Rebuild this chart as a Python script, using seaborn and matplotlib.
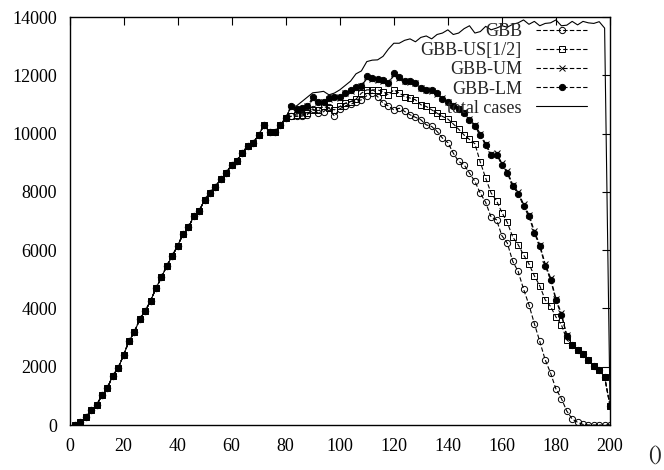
import matplotlib
matplotlib.use("Agg")
import matplotlib.pyplot as plt
import seaborn as sns
import pandas as pd

# ---------------- data ----------------
days = list(range(2, 201, 2))

# values shared by all series (x = 2 .. 80)
common = [10, 89, 261, 501, 686, 1015, 1269, 1691, 1955, 2401,
          2881, 3190, 3636, 3910, 4260, 4699, 5063, 5464, 5797, 6150,
          6551, 6778, 7169, 7350, 7728, 7978, 8184, 8448, 8644, 8939,
          9076, 9350, 9580, 9693, 9950, 10300, 10050, 10050, 10300, 10530]

# x = 82 .. 200
gbb_tail = [10590, 10590, 10600, 10650, 10850, 10700, 10750, 10900, 10600, 10850,
            10950, 11000, 11100, 11160, 11300, 11390, 11270, 11045, 10950, 10815,
            10870, 10760, 10644, 10560, 10473, 10300, 10244, 10073, 9845, 9690,
            9330, 9043, 8929, 8643, 8357, 7957, 7637, 7134, 7043, 6494,
            6243, 5614, 5271, 4664, 4127, 3480, 2869, 2241, 1784, 1235,
            910, 480, 206, 92, 20, 0, 0, 0, 0, 0]

us_tail = [10600, 10640, 10640, 10700, 10800, 10815, 10930, 10870, 10815, 10930,
           11040, 11100, 11180, 11387, 11500, 11500, 11500, 11440, 11330, 11500,
           11390, 11270, 11220, 11160, 10990, 10930, 10815, 10700, 10590, 10500,
           10330, 10150, 9950, 9800, 9650, 9020, 8470, 7960, 7700, 7290,
           6950, 6450, 6190, 5840, 5530, 5120, 4778, 4298, 4070, 3704,
           3441, 2927, 2755, 2561, 2447, 2241, 2035, 1898, 1647, 664]

um_tail = [10900, 10850, 10850, 10950, 11200, 11100, 11080, 11200, 11250, 11230,
           11380, 11450, 11560, 11620, 11900, 11880, 11850, 11820, 11740, 12000,
           11920, 11800, 11780, 11720, 11560, 11500, 11460, 11370, 11220, 11100,
           10980, 10880, 10750, 10500, 10300, 10000, 9650, 9300, 9330, 8980,
           8700, 8250, 7990, 7580, 7220, 6650, 6190, 5530, 5050, 4330,
           3830, 3080, 2755, 2561, 2447, 2241, 2035, 1898, 1647, 664]

lm_tail = [10930, 10850, 10870, 10930, 11250, 11100, 11100, 11216, 11270, 11250,
           11390, 11480, 11590, 11640, 11960, 11900, 11870, 11850, 11750, 12070,
           11940, 11820, 11790, 11750, 11560, 11500, 11480, 11390, 11200, 11080,
           10950, 10850, 10700, 10450, 10250, 9950, 9600, 9250, 9280, 8930,
           8640, 8190, 7935, 7520, 7160, 6590, 6130, 5470, 4990, 4275,
           3784, 3050, 2755, 2561, 2447, 2241, 2035, 1898, 1647, 664]

total_tail = [10930, 10950, 11100, 11250, 11400, 11420, 11450, 11330, 11390, 11500,
              11650, 11800, 12050, 12150, 12470, 12520, 12530, 12650, 12900, 13100,
              13100, 13200, 13250, 13150, 13300, 13350, 13250, 13400, 13450, 13560,
              13400, 13450, 13600, 13700, 13450, 13500, 13680, 13560, 13620, 13700,
              13650, 13750, 13800, 13900, 13750, 13850, 13700, 13780, 13800, 13900,
              13700, 13720, 13850, 13730, 13850, 13800, 13780, 13840, 13620, 664]

labels = ["GBB", "GBB-US[1/2]", "GBB-UM", "GBB-LM", "total cases"]
series = {
    "GBB": common + gbb_tail,
    "GBB-US[1/2]": common + us_tail,
    "GBB-UM": common + um_tail,
    "GBB-LM": common + lm_tail,
    "total cases": common + total_tail,
}

x_ticks = list(range(0, 201, 20))
y_ticks = list(range(0, 14001, 2000))

# ---------------- style ----------------
sns.set_style("white")
plt.rcParams["font.family"] = ["Liberation Serif", "DejaVu Serif"]
plt.rcParams["font.size"] = 13

fig = plt.figure(figsize=(6.64, 4.70), dpi=100)
ax = fig.add_axes([0.1047, 0.0957, 0.8140, 0.8681])

ms = 4.5
styles = {
    "GBB": dict(marker="o", markersize=ms, markerfacecolor="none",
                markeredgecolor="black", markeredgewidth=0.7, dashes=(4, 2)),
    "GBB-US[1/2]": dict(marker="s", markersize=ms, markerfacecolor="none",
                        markeredgecolor="black", markeredgewidth=0.7, dashes=(4, 2)),
    "GBB-UM": dict(marker="x", markersize=ms, markeredgecolor="black",
                   markeredgewidth=0.7, dashes=(4, 2)),
    "GBB-LM": dict(marker="o", markersize=ms, markerfacecolor="black",
                   markeredgecolor="black", markeredgewidth=0.7, dashes=(4, 2)),
    "total cases": dict(marker=None),
}

for name in labels:
    df = pd.DataFrame({"day": days, "cases": series[name]})
    sns.lineplot(data=df, x="day", y="cases", ax=ax, color="black",
                 linewidth=0.8, label=name, **styles[name])

ax.set_xlim(0, 200)
ax.set_ylim(0, 14000)
ax.set_xticks(x_ticks)
ax.set_yticks(y_ticks)
ax.set_xlabel("")
ax.set_ylabel("")
ax.tick_params(direction="in", length=6, width=0.8, top=True, right=True,
               labelsize=13, colors="black")
ax.tick_params(axis="x", pad=9)
ax.tick_params(axis="y", pad=9)
for sp in ax.spines.values():
    sp.set_visible(True)
    sp.set_color("black")
    sp.set_linewidth(1.0)

ax.text(1.083, -0.075, "()", transform=ax.transAxes, ha="center",
        va="center", fontsize=15)

ax.legend(loc="upper right", bbox_to_anchor=(0.9574, 0.985), frameon=False,
          markerfirst=False, handlelength=2.8, handletextpad=0.8,
          labelspacing=0.12, borderpad=0, borderaxespad=0, fontsize=13)

fig.savefig("out.png", dpi=100)
